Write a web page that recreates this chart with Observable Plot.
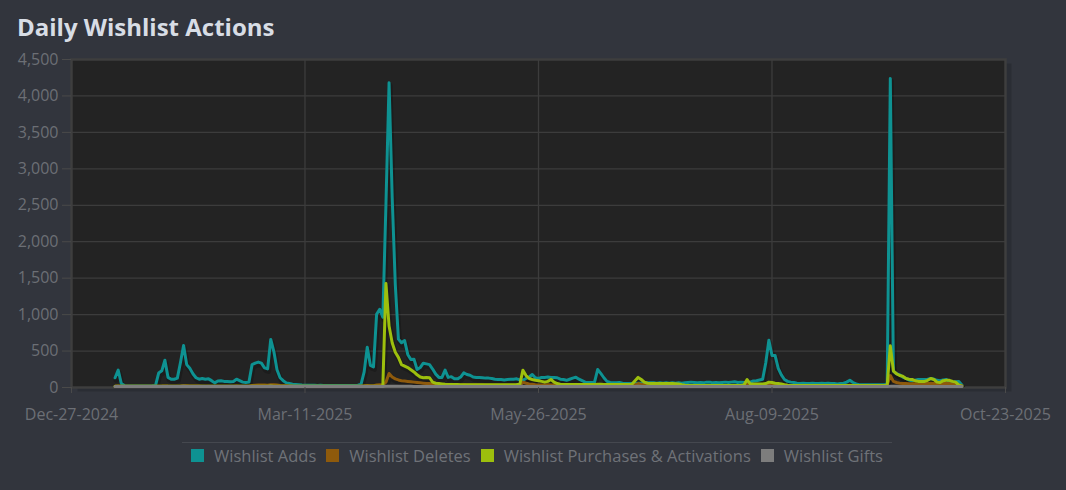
<!DOCTYPE html>
<html>
<head>
<meta charset="utf-8">
<script src="https://cdn.jsdelivr.net/npm/d3@7"></script>
<script src="https://cdn.jsdelivr.net/npm/@observablehq/plot@0.6"></script>
<style>
  html, body { margin: 0; padding: 0; }
  body { width: 1066px; height: 490px; overflow: hidden; background: #32353d; font-family: "Open Sans", sans-serif; position: relative; }
  #title { position: absolute; left: 17px; top: 15px; font-size: 24px; line-height: 1; font-weight: 700; color: #d8dde5; white-space: nowrap; }
  #chart { position: absolute; left: 0; top: 45px; }
  #legend { position: absolute; left: 182px; top: 442px; width: 710px; border-top: 1px solid #45484f; padding-top: 2px; display: flex; justify-content: center; font-size: 16.5px; line-height: 21px; color: #6f7278; white-space: nowrap; }
  .item { display: flex; align-items: center; margin-right: 10px; }
  .item:last-child { margin-right: 0; }
  .sw { width: 13px; height: 13px; margin-right: 10px; }
</style>
</head>
<body>
<div id="title">Daily Wishlist Actions</div>
<div id="chart"></div>
<div id="legend"></div>
<script>
// ---- data ----
const seriesNames = ["Wishlist Adds", "Wishlist Deletes", "Wishlist Purchases & Activations", "Wishlist Gifts"];
const seriesColors = ["#0e9292", "#8e5a0c", "#9dbf0d", "#7d7d7d"];
const startDate = "2025-01-10"; // first daily value
const domainStart = "2024-12-27";
const domainEnd = "2025-10-23";
const xTickLabels = ["Dec-27-2024", "Mar-11-2025", "May-26-2025", "Aug-09-2025", "Oct-23-2025"];
const yTicks = [0, 500, 1000, 1500, 2000, 2500, 3000, 3500, 4000, 4500];

const adds = [
  120,224,40,12,8,8,6,8,7,6,
  8,7,9,15,185,215,360,125,100,100,
  115,330,562,300,250,175,120,100,110,100,
  105,80,50,75,80,70,70,65,70,100,
  80,60,55,60,300,320,335,320,256,242,
  645,480,230,120,80,50,40,30,28,25,
  20,18,18,16,18,15,16,15,14,15,
  14,15,14,13,14,15,14,15,18,30,
  200,540,290,270,990,1060,950,2500,4166,2600,
  1400,650,600,630,440,370,375,233,260,320,
  310,300,240,170,125,125,224,125,135,105,
  105,130,188,165,155,130,125,125,120,115,
  115,110,100,95,95,90,95,100,100,105,
  90,85,110,130,165,120,110,125,125,130,
  125,125,120,100,95,85,100,115,128,100,
  80,60,55,55,60,233,180,120,70,55,
  50,50,55,45,40,40,40,40,45,45,
  50,50,50,50,45,50,45,50,45,50,
  45,50,45,50,55,60,55,50,55,50,
  60,60,50,55,50,55,60,55,60,65,
  55,60,55,50,60,75,80,90,100,325,
  635,425,425,250,160,96,70,60,55,45,
  40,45,40,40,45,40,40,45,40,45,
  40,40,35,40,45,60,86,55,35,25,
  25,25,25,25,25,25,25,25,30,4225,
  210,175,160,130,110,90,80,85,96,96,
  96,100,110,100,85,80,90,95,70,55,
  65,70,20
];
const deletes = [
  5,8,5,4,3,3,3,3,3,3,
  3,3,3,3,5,6,8,6,5,5,
  5,8,12,10,8,7,6,6,5,5,
  5,5,4,4,4,4,4,4,5,6,
  5,5,5,5,15,18,20,22,20,18,
  25,25,20,15,12,10,8,6,5,5,
  4,4,4,4,4,4,4,4,4,4,
  4,4,4,4,4,4,4,4,5,6,
  10,15,12,12,20,25,22,60,178,130,
  105,90,80,75,70,65,60,55,50,45,
  40,40,35,30,28,25,25,25,22,22,
  22,22,25,22,22,20,20,20,20,18,
  18,18,18,16,16,16,16,16,16,16,
  16,60,45,35,30,25,22,20,22,25,
  22,20,18,16,16,16,16,16,16,15,
  15,15,15,15,15,20,18,16,15,15,
  15,15,15,15,15,15,15,25,40,30,
  22,20,18,16,15,15,15,15,15,15,
  15,15,14,14,14,14,14,14,14,14,
  14,14,14,14,14,14,14,14,14,14,
  14,14,14,30,20,16,16,16,18,20,
  30,28,25,22,20,18,16,15,15,14,
  14,14,14,14,14,14,14,14,14,14,
  14,14,14,14,14,14,16,15,12,12,
  12,12,12,12,12,12,12,12,20,150,
  70,55,45,40,40,38,38,38,38,38,
  40,40,45,42,38,35,40,42,40,35,
  30,20,10
];
const purchases = [
  2,3,2,2,2,2,2,2,2,2,
  2,2,2,2,3,3,4,3,3,3,
  3,4,5,4,4,3,3,3,3,3,
  3,3,3,3,3,3,3,3,3,3,
  3,3,3,3,4,4,5,5,5,5,
  6,5,4,4,3,3,3,3,3,3,
  3,3,3,3,3,3,3,3,3,3,
  3,3,3,3,3,3,3,3,3,3,
  3,4,3,3,4,4,5,1413,830,600,
  470,400,300,280,260,230,200,160,130,120,
  125,120,60,45,40,35,30,28,28,26,
  26,25,25,25,25,25,25,24,24,24,
  24,24,24,24,24,24,24,24,24,26,
  30,224,150,110,96,85,80,70,60,70,
  96,60,40,30,28,28,28,28,28,28,
  28,28,28,28,28,30,30,28,28,28,
  28,28,28,28,28,28,30,80,125,96,
  60,45,42,40,40,40,40,40,40,40,
  38,35,25,18,15,15,15,15,15,15,
  15,15,15,15,15,15,15,15,15,15,
  15,15,20,96,35,35,35,35,35,40,
  60,55,45,40,35,25,18,15,14,14,
  13,13,13,13,13,13,13,13,13,13,
  13,13,13,13,13,13,13,13,13,13,
  13,13,13,13,13,13,13,13,15,560,
  210,175,150,140,110,100,96,80,70,70,
  70,85,110,96,60,55,80,85,85,70,
  60,20,5
];
const gifts = [
  1,1,1,1,1,1,1,1,1,1,
  1,1,1,1,1,1,1,1,1,1,
  1,1,2,1,1,1,1,1,1,1,
  1,1,1,1,1,1,1,1,1,1,
  1,1,1,1,1,1,1,1,1,1,
  2,1,1,1,1,1,1,1,1,1,
  1,1,1,1,1,1,1,1,1,1,
  1,1,1,1,1,1,1,1,1,1,
  1,1,1,1,1,1,1,3,4,3,
  2,2,2,2,2,2,1,1,1,1,
  1,1,1,1,1,1,1,1,1,1,
  1,1,1,1,1,1,1,1,1,1,
  1,1,1,1,1,1,1,1,1,1,
  1,2,1,1,1,1,1,1,1,1,
  1,1,1,1,1,1,1,1,1,1,
  1,1,1,1,1,1,1,1,1,1,
  1,1,1,1,1,1,1,1,2,1,
  1,1,1,1,1,1,1,1,1,1,
  1,1,1,1,1,1,1,1,1,1,
  1,1,1,1,1,1,1,1,1,1,
  1,1,1,1,1,1,1,1,1,1,
  2,1,1,1,1,1,1,1,1,1,
  1,1,1,1,1,1,1,1,1,1,
  1,1,1,1,1,1,1,1,1,1,
  1,1,1,1,1,1,1,1,1,3,
  2,2,1,1,1,1,1,1,1,1,
  1,1,1,1,1,1,1,1,1,1,
  1,1,1
];

// ---- build table ----
const allSeries = [adds, deletes, purchases, gifts];
const t0 = new Date(startDate);
const rows = [];
allSeries.forEach((arr, s) => arr.forEach((v, i) => rows.push({series: seriesNames[s], date: d3.utcDay.offset(t0, i), value: v})));

const d0 = new Date(domainStart), d1 = new Date(domainEnd);
const tickDates = xTickLabels.map((_, i) => new Date(+d0 + i * (d1 - d0) / (xTickLabels.length - 1)));
const tickLabelMap = new Map(tickDates.map((d, i) => [+d, xTickLabels[i]]));

const lineMarks = [];
seriesNames.forEach((name, s) => {
  const data = rows.filter(r => r.series === name);
  lineMarks.push(Plot.line(data, {x: "date", y: "value", stroke: "#000", strokeOpacity: 0.2, strokeWidth: 5, dx: 1, dy: 1.5, clip: true}));
});
seriesNames.forEach((name, s) => {
  const data = rows.filter(r => r.series === name);
  lineMarks.push(Plot.line(data, {x: "date", y: "value", stroke: seriesColors[s], strokeWidth: 3, strokeLinejoin: "round", dy: -1}));
});

const chart = Plot.plot({
  width: 1066,
  height: 382,
  marginLeft: 71,
  marginRight: 61,
  marginTop: 14,
  marginBottom: 40,
  style: {background: "transparent", fontFamily: "'Open Sans', sans-serif", fontSize: "16px", color: "#6c6f75", overflow: "visible"},
  x: {type: "utc", domain: [d0, d1]},
  y: {domain: [0, 4500]},
  marks: [
    Plot.frame({fill: "#000", fillOpacity: 0.14, dx: 6, dy: 4}),
    Plot.frame({fill: "#232323"}),
    Plot.gridY(yTicks.slice(1, -1), {stroke: "#3c3c3c", strokeOpacity: 1, strokeWidth: 1.3}),
    Plot.gridX(tickDates.slice(1, -1), {stroke: "#3c3c3c", strokeOpacity: 1, strokeWidth: 1.3}),
    Plot.frame({stroke: "#3e3e3e", strokeWidth: 2.5}),
    ...lineMarks,
    Plot.axisY({ticks: yTicks, tickFormat: d3.format(","), tickSize: 9, tickPadding: 4, stroke: "#4a4a4a", label: null}),
    Plot.axisX({ticks: tickDates, tickFormat: d => tickLabelMap.get(+d), tickSize: 6, tickPadding: 15, stroke: "#4a4a4a", label: null})
  ]
});
document.getElementById("chart").appendChild(chart);

// ---- legend ----
const legend = document.getElementById("legend");
seriesNames.forEach((name, s) => {
  const item = document.createElement("div");
  item.className = "item";
  const sw = document.createElement("span");
  sw.className = "sw";
  sw.style.background = seriesColors[s];
  const label = document.createElement("span");
  label.textContent = name;
  item.appendChild(sw);
  item.appendChild(label);
  legend.appendChild(item);
});
</script>
</body>
</html>
